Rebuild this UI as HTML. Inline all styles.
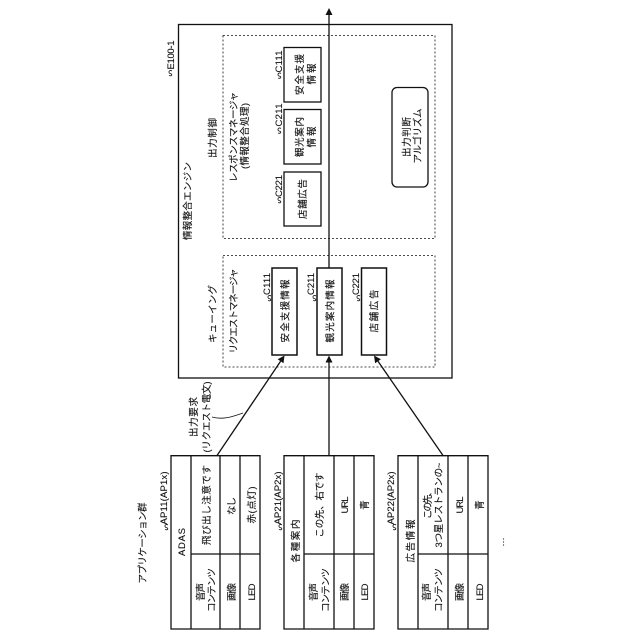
<!DOCTYPE html>
<html><head><meta charset="utf-8"><style>
html,body{margin:0;padding:0;background:#fff}
svg{display:block}
text{font-family:"Liberation Sans","Noto Sans CJK JP",sans-serif;font-size:9.5px;fill:#111;stroke:#111;stroke-width:.12;text-anchor:middle;dominant-baseline:central}
</style></head><body>
<svg width="640" height="640" viewBox="0 0 640 640" xmlns="http://www.w3.org/2000/svg">
<g fill="none" stroke="#111" stroke-width="1.3">
<rect x="178.5" y="24.5" width="273.5" height="353.5"/>
<g stroke-dasharray="2 2" stroke-width="0.8">
<rect x="223" y="35.5" width="212" height="203"/>
<rect x="223" y="255.5" width="212" height="111.5"/>
</g>
<rect x="284" y="47.5" width="37" height="54.5"/>
<rect x="284" y="109.5" width="37" height="54.5"/>
<rect x="284" y="172" width="37" height="54"/>
<rect x="272" y="268" width="25" height="87" stroke-width="1.5"/>
<rect x="317" y="268" width="25" height="87" stroke-width="1.5"/>
<rect x="361.5" y="268" width="25" height="87" stroke-width="1.5"/>
<rect x="392" y="87.5" width="36" height="99.5" rx="5"/>
<path d="M329 268V14M217 455.5L280.6 361.3M329 455.5V361M443 455.5L378 361.2"/>
<path d="M212 417C222 420 232 417 243 413" stroke-width="0.8"/>
<!-- tables -->
<path d="M171 455.7H260V629H171ZM191 455.7V629M220 455.7V629M240 455.7V629M191 554H260"/>
<path d="M284 455.7H374V629H284ZM304 455.7V629M334 455.7V629M354 455.7V629M304 554H374"/>
<path d="M398 455.7H488V629H398ZM418 455.7V629M448 455.7V629M468 455.7V629M418 554H488"/>
<!-- squiggles -->
<g stroke-width="0.8">
<path d="M172 71c-3 -2 -4 2 -2 2.5c3 .5 2 3 -1 2"/>
<path d="M281 73.5c-3 -2 -4 2 -2 2.5c3 .5 2 3 -1 2"/>
<path d="M281 128.5c-3 -2 -4 2 -2 2.5c3 .5 2 3 -1 2"/>
<path d="M281 198c-3 -2 -4 2 -2 2.5c3 .5 2 3 -1 2"/>
<path d="M271 296c-3 -2 -4 2 -2 2.5c3 .5 2 3 -1 2"/>
<path d="M316 296c-3 -2 -4 2 -2 2.5c3 .5 2 3 -1 2"/>
<path d="M360 296c-3 -2 -4 2 -2 2.5c3 .5 2 3 -1 2"/>
<path d="M168 525c-3 -2 -4 2 -2 2.5c3 .5 2 3 -1 2"/>
<path d="M282 525c-3 -2 -4 2 -2 2.5c3 .5 2 3 -1 2"/>
<path d="M396 525c-3 -2 -4 2 -2 2.5c3 .5 2 3 -1 2"/>
</g>
</g>
<g fill="#111">
<path d="M329 8L325.5 15H332.5Z"/>
<path d="M284.5 355.5L277.7 359.3L283.5 363.3Z"/>
<path d="M329 355.5L325.5 362.5H332.5Z"/>
<path d="M374 355.5L380.9 359.2L375.1 363.2Z"/>
</g>
<g transform="translate(1.5 0)">
<text transform="translate(170 55) rotate(-90)" textLength="29">E100-1</text>
<text transform="translate(187 201) rotate(-90)" textLength="78">情報整合エンジン</text>
<text transform="translate(212 138) rotate(-90)" textLength="40">出力制御</text>
<text transform="translate(233 137) rotate(-90)" textLength="90">レスポンスマネージャ</text>
<text transform="translate(244 136) rotate(-90)" textLength="66">(情報整合処理)</text>
<text transform="translate(278 61.5) rotate(-90)" textLength="22">C111</text>
<text transform="translate(278 115) rotate(-90)" textLength="23">C211</text>
<text transform="translate(278 186) rotate(-90)" textLength="22">C221</text>
<text transform="translate(299 74.5) rotate(-90)" textLength="41">安全支援</text>
<text transform="translate(311 74) rotate(-90)" textLength="21">情報</text>
<text transform="translate(299 137) rotate(-90)" textLength="40">観光案内</text>
<text transform="translate(311 137) rotate(-90)" textLength="21">情報</text>
<text transform="translate(302 199) rotate(-90)" textLength="40">店舗広告</text>
<text transform="translate(406 137) rotate(-90)" textLength="40">出力判断</text>
<text transform="translate(417 136) rotate(-90)" textLength="55">アルゴリズム</text>
<text transform="translate(212 314) rotate(-90)" textLength="58">キューイング</text>
<text transform="translate(233 311) rotate(-90)" textLength="85">リクエストマネージャ</text>
<text transform="translate(266 284) rotate(-90)" textLength="22">C111</text>
<text transform="translate(310 284) rotate(-90)" textLength="22">C211</text>
<text transform="translate(355 284) rotate(-90)" textLength="22">C221</text>
<text transform="translate(284.5 311) rotate(-90)" textLength="63">安全支援情報</text>
<text transform="translate(329.5 311) rotate(-90)" textLength="63">観光案内情報</text>
<text transform="translate(373.5 311) rotate(-90)" textLength="43">店舗広告</text>
<text transform="translate(193 417) rotate(-90)" textLength="40">出力要求</text>
<text transform="translate(206 417) rotate(-90)" textLength="71">(リクエスト電文)</text>
<text transform="translate(142 543) rotate(-90)" textLength="81">アプリケーション群</text>
<text transform="translate(163 498) rotate(-90)" textLength="53">AP11(AP1x)</text>
<text transform="translate(277 498) rotate(-90)" textLength="53">AP21(AP2x)</text>
<text transform="translate(390 498) rotate(-90)" textLength="53">AP22(AP2x)</text>
<text transform="translate(181 542) rotate(-90)" textLength="28">ADAS</text>
<text transform="translate(206 505) rotate(-90)" textLength="80">飛び出し注意です</text>
<text transform="translate(231 506) rotate(-90)" textLength="18">なし</text>
<text transform="translate(251 505) rotate(-90)" textLength="37">赤(点灯)</text>
<text transform="translate(200 592) rotate(-90)" textLength="18">音声</text>
<text transform="translate(211 590) rotate(-90)" textLength="44">コンテンツ</text>
<text transform="translate(231 592) rotate(-90)" textLength="18">画像</text>
<text transform="translate(251 592) rotate(-90)" textLength="17">LED</text>
<text transform="translate(295 541) rotate(-90)" textLength="43">各種案内</text>
<text transform="translate(319 505) rotate(-90)" textLength="65">この先、右です</text>
<text transform="translate(344 505) rotate(-90)" textLength="17">URL</text>
<text transform="translate(364 505) rotate(-90)">青</text>
<text transform="translate(313 592) rotate(-90)" textLength="18">音声</text>
<text transform="translate(325 590) rotate(-90)" textLength="44">コンテンツ</text>
<text transform="translate(344 592) rotate(-90)" textLength="18">画像</text>
<text transform="translate(364 592) rotate(-90)" textLength="17">LED</text>
<text transform="translate(410 541) rotate(-90)" textLength="43">広告情報</text>
<text transform="translate(427 503) rotate(-90)" textLength="32">この先、</text>
<text transform="translate(438 505) rotate(-90)" textLength="85">3つ星レストランの~</text>
<text transform="translate(459 505) rotate(-90)" textLength="17">URL</text>
<text transform="translate(479 505) rotate(-90)">青</text>
<text transform="translate(426 592) rotate(-90)" textLength="18">音声</text>
<text transform="translate(438 590) rotate(-90)" textLength="44">コンテンツ</text>
<text transform="translate(459 592) rotate(-90)" textLength="18">画像</text>
<text transform="translate(479 592) rotate(-90)" textLength="17">LED</text>
<text transform="translate(500 542) rotate(-90)">…</text>
</g>
</svg>
</body></html>
